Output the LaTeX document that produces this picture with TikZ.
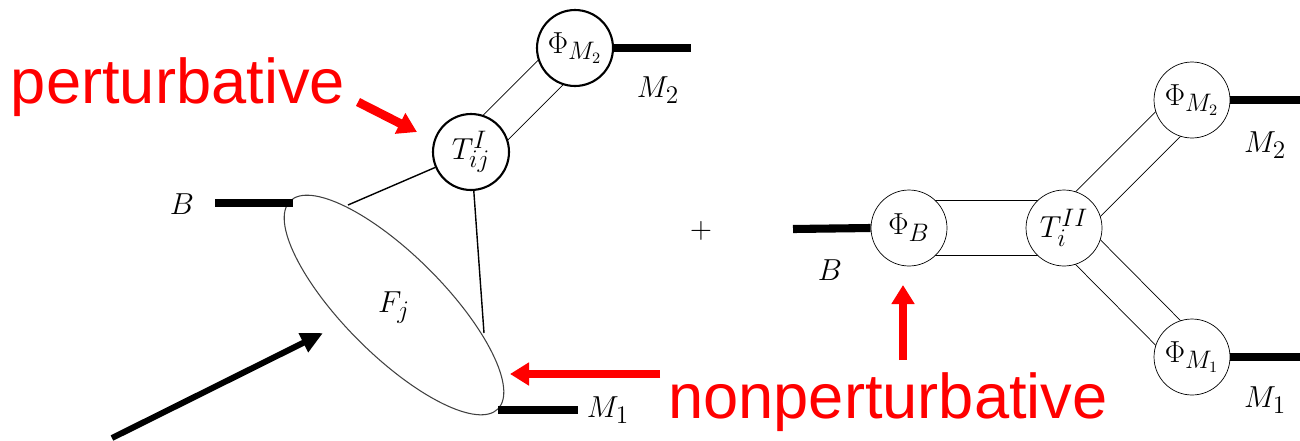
\documentclass[tikz,border=0pt]{standalone}
\usepackage{fontspec}
\newfontfamily\notefont{Liberation Sans}
\usetikzlibrary{arrows.meta,backgrounds,calc,shapes.geometric}

\begin{document}
\begin{tikzpicture}[x=0.02cm,y=-0.02cm,line width=1.2pt,font=\fontsize{19}{23}\selectfont,
  blob/.style={circle,draw,fill=white,minimum size=1.52cm,inner sep=0pt},
  leg/.style={line width=4.6pt},
  note/.style={red,font=\notefont\fontsize{36}{40}\selectfont},
  pointer/.style={red,line width=5pt,-{Triangle[length=0.38cm,width=0.44cm]}}]
  \useasboundingbox (0,0) rectangle (1300,440);
  % left: form factor term
  \node[ellipse,draw=black!75,line width=0.6pt,minimum width=5.88cm,minimum height=2cm,rotate=-45] (Fblob) at (394,305) {};
  \node (Flab) at (394,308) {$F_j$};
  \node[blob] (TI) at (471,152) {$T^{I}_{ij}$};
  \node[blob] (PhiTop) at (575,48) {$\Phi_{M_2}$};
  \coordinate (fa) at (348,205);
  \coordinate (fb) at (484,333);
  \draw[line width=0.8pt] (TI) -- (fa);
  \draw[line width=0.8pt] (TI) -- (fb);
  \begin{pgfonlayer}{background}
    \foreach \s in {90,-90}
      \draw ($(TI.center)!0.35cm!\s:(PhiTop.center)$) -- ($(PhiTop.center)!0.35cm!-\s:(TI.center)$);
  \end{pgfonlayer}
  \coordinate (bin) at (215,203);
  \coordinate (bout) at (293,203);
  \coordinate (m1a) at (498,410);
  \coordinate (m1b) at (578,410);
  \coordinate (m2b) at (691,48);
  \draw[leg] (bin) -- (bout);
  \draw[leg] (m1a) -- (m1b);
  \draw[leg] (PhiTop.east) -- (m2b);
  \node (Bleft) at (182,204) {$B$};
  \node (M2left) at (658,90) {$M_2$};
  \node (M1left) at (608,410) {$M_1$};
  \node (plus) at (701,231) {$+$};
  % right: spectator term
  \node[blob] (PhiB) at (909,228) {$\Phi_B$};
  \node[blob] (TII) at (1064,228) {$T^{II}_{i}$};
  \node[blob] (PhiUp) at (1192,100) {$\Phi_{M_2}$};
  \node[blob] (PhiDown) at (1192,357) {$\Phi_{M_1}$};
  \begin{pgfonlayer}{background}
    \foreach \s in {90,-90} {
      \draw ($(PhiB.center)!0.55cm!\s:(TII.center)$) -- ($(TII.center)!0.55cm!-\s:(PhiB.center)$);
      \draw ($(TII.center)!0.35cm!\s:(PhiUp.center)$) -- ($(PhiUp.center)!0.35cm!-\s:(TII.center)$);
      \draw ($(TII.center)!0.35cm!\s:(PhiDown.center)$) -- ($(PhiDown.center)!0.35cm!-\s:(TII.center)$);
    }
  \end{pgfonlayer}
  \coordinate (bstart) at (793,229);
  \coordinate (m2end) at (1300,100);
  \coordinate (m1end) at (1300,357);
  \draw[leg] (bstart) -- (PhiB.west);
  \draw[leg] (PhiUp.east) -- (m2end);
  \draw[leg] (PhiDown.east) -- (m1end);
  \node (Bright) at (830,270) {$B$};
  \node (M2right) at (1265,145) {$M_2$};
  \node (M1right) at (1265,400) {$M_1$};
  % annotations
  \node[note,anchor=base] (pert) at (178,103) {perturbative};
  \node[note,anchor=base] (nonpert) at (888,418) {nonperturbative};
  \coordinate (pertTail) at (358,102);
  \coordinate (pertTip) at (417,132);
  \coordinate (npTail) at (660,374);
  \coordinate (npTip) at (510,374);
  \coordinate (upTail) at (903,360);
  \coordinate (upTip) at (903,285);
  \coordinate (foot) at (112,438);
  \coordinate (fjTip) at (323,333);
  \draw[pointer] (pertTail) -- (pertTip);
  \draw[pointer] (npTail) -- (npTip);
  \draw[pointer] (upTail) -- (upTip);
  \draw[line width=3.4pt,-{Triangle[length=0.44cm,width=0.4cm]}] (foot) -- (fjTip);
\end{tikzpicture}
\end{document}
